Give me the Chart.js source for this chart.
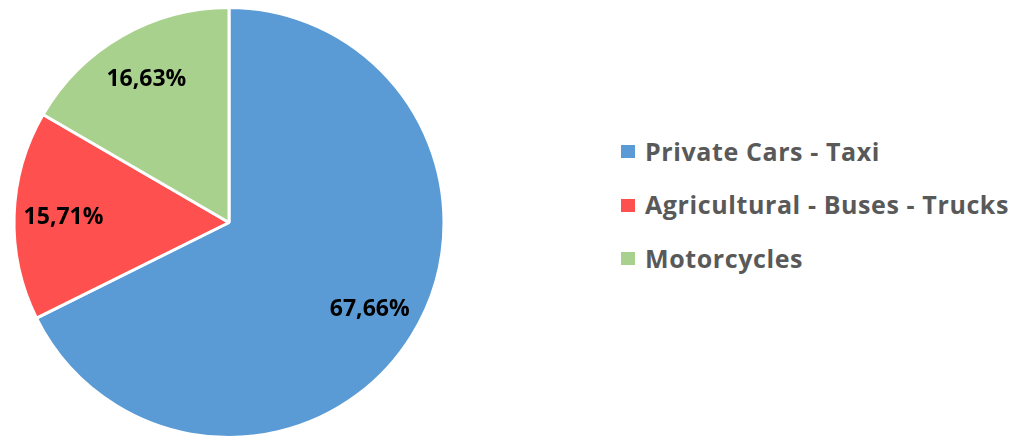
<!DOCTYPE html>
<html>
<head>
<meta charset="utf-8">
<script src="https://cdn.jsdelivr.net/npm/chart.js@4/dist/chart.umd.min.js"></script>
<style>
    html, body { margin: 0; padding: 0; background: #fff; }
    body { width: 1020px; height: 441px; position: relative; overflow: hidden; font-family: "Open Sans", Lato, sans-serif; }
    #pieWrap { position: absolute; left: 0; top: 0; width: 458px; height: 441px; }
    #legend { position: absolute; left: 621px; top: 124px; margin: 0; padding: 0; list-style: none; }
    #legend li { height: 53.5px; display: flex; align-items: center; font-weight: bold; font-size: 25px; letter-spacing: 0.6px; color: #595959; white-space: nowrap; }
    #legend li span { display: inline-block; width: 14px; height: 13px; margin-right: 10px; margin-top: 2px; }
</style>
</head>
<body>
<div id="pieWrap"><canvas id="pieChart"></canvas></div>
<ul id="legend"></ul>
<script>
const categories = ['Private Cars - Taxi', 'Agricultural - Buses - Trucks', 'Motorcycles'];
const shares = [67.66, 15.71, 16.63];
const sliceColors = ['#5B9BD5', '#FF5050', '#A9D18E'];

document.addEventListener('DOMContentLoaded', function () {
    initChart();
    initLegend();
});

function formatShare(value) {
    return value.toFixed(2).replace('.', ',') + '%';
}

// percentages written inside each slice
const sliceLabels = {
    id: 'sliceLabels',
    afterDatasetsDraw(chart) {
        const ctx = chart.ctx;
        const meta = chart.getDatasetMeta(0);
        ctx.save();
        ctx.font = 'bold 23px "Open Sans", Lato, sans-serif';
        ctx.fillStyle = '#000';
        ctx.textAlign = 'center';
        ctx.textBaseline = 'middle';
        meta.data.forEach((arc, i) => {
            const p = arc.getProps(['x', 'y', 'startAngle', 'endAngle', 'outerRadius'], true);
            const mid = (p.startAngle + p.endAngle) / 2;
            const r = p.outerRadius * 0.77;
            ctx.fillText(formatShare(shares[i]), p.x + Math.cos(mid) * r, p.y + Math.sin(mid) * r);
        });
        ctx.restore();
    }
};

function initChart() {
    const ctx = document.getElementById('pieChart').getContext('2d');
    new Chart(ctx, {
        type: 'pie',
        data: {
            labels: categories,
            datasets: [{
                data: shares,
                backgroundColor: sliceColors,
                borderColor: '#fff',
                borderWidth: 3
            }]
        },
        options: {
            responsive: true,
            maintainAspectRatio: false,
            animation: false,
            layout: { padding: { top: 6, bottom: 2, left: 0, right: 0 } },
            plugins: {
                legend: { display: false },
                tooltip: { enabled: false }
            }
        },
        plugins: [sliceLabels]
    });
}

function initLegend() {
    const list = document.getElementById('legend');
    categories.forEach((name, i) => {
        const li = document.createElement('li');
        const box = document.createElement('span');
        box.style.background = sliceColors[i];
        li.appendChild(box);
        li.appendChild(document.createTextNode(name));
        list.appendChild(li);
    });
}
</script>
</body>
</html>
